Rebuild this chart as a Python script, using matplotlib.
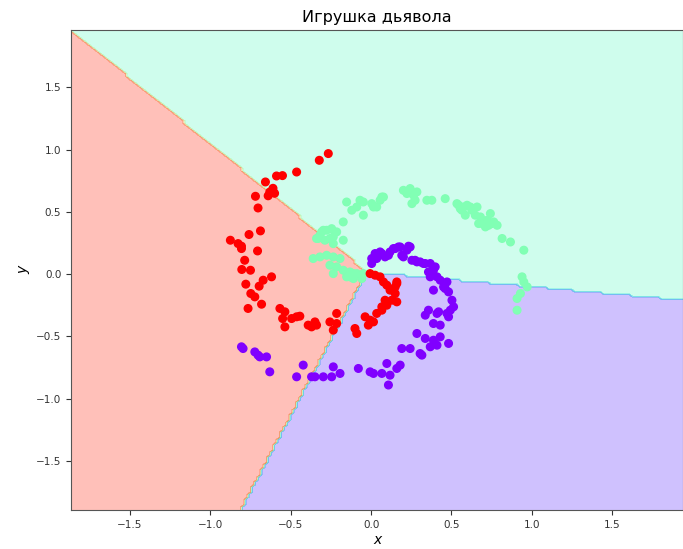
import numpy as np
import matplotlib
matplotlib.use('Agg')
import matplotlib.pyplot as plt

# spiral points, one arm per class
purple_x = [0.004, 0.035, 0.067, 0.087, 0.118, 0.15, 0.181, 0.191, 0.223, 0.243,
            0.254, 0.285, 0.326, 0.368, 0.357, 0.388, 0.368, 0.004, 0.025, 0.056,
            0.108, 0.139, 0.17, 0.201, 0.233, 0.274, 0.305, 0.337, 0.399, 0.41,
            0.43, 0.472, 0.451, 0.388, 0.482, 0.503, 0.513, 0.493, 0.472, 0.41,
            0.337, 0.357, 0.461, 0.42, 0.482, 0.388, 0.43, 0.285, 0.337, 0.388,
            0.43, 0.482, 0.368, 0.41, 0.191, 0.243, 0.305, 0.316, 0.181, 0.16,
            0.098, 0.118, 0.067, 0.015, -0.006, -0.079, 0.108, -0.193, -0.235, -0.245,
            -0.297, -0.349, -0.37, -0.422, -0.463, -0.63, -0.692, -0.703, -0.65, -0.723,
            -0.796, -0.806]
purple_y = [0.086, 0.126, 0.166, 0.139, 0.179, 0.206, 0.219, 0.152, 0.193, 0.219,
            0.112, 0.099, 0.086, 0.086, 0.018, 0.032, -0.021, 0.126, 0.166, 0.179,
            0.152, 0.206, 0.219, 0.139, 0.225, 0.112, 0.099, 0.086, 0.059, -0.021,
            -0.048, -0.062, -0.102, -0.128, -0.142, -0.209, -0.262, -0.289, -0.315, -0.315,
            -0.329, -0.289, -0.115, -0.302, -0.342, -0.396, -0.409, -0.476, -0.516, -0.53,
            -0.503, -0.556, -0.583, -0.57, -0.597, -0.597, -0.637, -0.65, -0.73, -0.757,
            -0.717, -0.811, -0.797, -0.797, -0.784, -0.757, -0.89, -0.797, -0.744, -0.824,
            -0.824, -0.824, -0.824, -0.73, -0.824, -0.784, -0.664, -0.65, -0.664, -0.624,
            -0.597, -0.583]

green_x = [-0.152, -0.12, -0.089, -0.069, -0.048, 0.004, 0.035, 0.056, 0.077, -0.173,
           0.201, 0.223, 0.243, 0.264, 0.274, 0.254, 0.285, 0.347, 0.378, 0.461,
           0.534, 0.555, 0.576, 0.597, 0.628, 0.586, 0.648, 0.68, 0.69, 0.711,
           0.721, 0.752, 0.784, 0.742, 0.815, 0.867, 0.95, 0.939, 0.95, 0.971,
           0.929, 0.908, 0.908, 0.545, 0.565, 0.617, 0.659, 0.669, 0.731, 0.763,
           -0.048, 0.067, 0.015, -0.307, -0.276, -0.245, -0.214, -0.235, -0.287, -0.329,
           -0.173, -0.297, -0.256, -0.318, -0.339, -0.235, -0.36, -0.318, -0.276, -0.235,
           -0.193, -0.256, -0.214, -0.173, -0.131, -0.089, -0.048, -0.235, -0.152, -0.11,
           -0.131, -0.058, -0.11]
green_y = [0.58, 0.514, 0.54, 0.594, 0.474, 0.567, 0.54, 0.594, 0.62, 0.42,
           0.674, 0.648, 0.688, 0.634, 0.594, 0.567, 0.661, 0.594, 0.594, 0.607,
           0.567, 0.527, 0.54, 0.554, 0.514, 0.474, 0.474, 0.46, 0.407, 0.38,
           0.433, 0.407, 0.393, 0.487, 0.287, 0.259, 0.193, -0.021, -0.062, -0.102,
           -0.155, -0.195, -0.289, 0.554, 0.514, 0.54, 0.54, 0.407, 0.393, 0.42,
           0.58, 0.62, 0.54, 0.34, 0.353, 0.366, 0.34, 0.3, 0.273, 0.287,
           0.273, 0.353, 0.287, 0.313, 0.287, 0.246, 0.126, 0.139, 0.152, 0.139,
           0.126, 0.072, 0.059, 0.032, 0.018, 0.005, 0.005, 0.005, -0.021, -0.035,
           -0.021, -0.035, 0.005]

red_x = [-0.266, -0.322, -0.463, -0.551, -0.588, -0.657, -0.63, -0.60, -0.64, -0.61,
         -0.719, -0.703, -0.688, -0.759, -0.875, -0.827, -0.806, -0.806, -0.706, -0.786,
         -0.804, -0.75, -0.619, -0.671, -0.696, -0.779, -0.748, -0.723, -0.681, -0.765,
         -0.567, -0.536, -0.55, -0.536, -0.494, -0.443, -0.463, -0.391, -0.349, -0.37,
         -0.339, -0.256, -0.235, -0.214, -0.214, -0.1, -0.089, -0.037, -0.017, 0.015,
         -0.006, 0.035, 0.067, 0.067, 0.087, 0.098, 0.129, 0.16, 0.15, 0.118,
         0.098, 0.16, 0.077, 0.056, 0.025, -0.006, 0.15, 0.16]
red_y = [0.969, 0.915, 0.821, 0.792, 0.789, 0.741, 0.66, 0.65, 0.63, 0.69,
         0.626, 0.532, 0.348, 0.319, 0.273, 0.246, 0.225, 0.206, 0.187, 0.112,
         0.038, 0.032, -0.021, -0.048, -0.096, -0.08, -0.155, -0.182, -0.241, -0.275,
         -0.275, -0.302, -0.356, -0.423, -0.356, -0.337, -0.342, -0.409, -0.383, -0.423,
         -0.409, -0.383, -0.449, -0.315, -0.396, -0.436, -0.476, -0.342, -0.409, -0.383,
         -0.369, -0.315, -0.262, -0.289, -0.209, -0.249, -0.209, -0.222, -0.155, -0.128,
         -0.088, -0.075, -0.062, -0.021, -0.008, 0.005, -0.102, -0.062]

# linear classifier (softmax) weights, classes: 0 purple, 1 green, 2 red
W = np.array([[-0.226, -1.973],
              [0.0, 0.0],
              [-1.522, -1.441]])
b = np.array([0.029, 0.0, -0.015])

X = np.column_stack([purple_x + green_x + red_x, purple_y + green_y + red_y])
y = np.array([0] * len(purple_x) + [1] * len(green_x) + [2] * len(red_x))

h = 0.02
x_min, x_max = X[:, 0].min() - 1, X[:, 0].max() + 1
y_min, y_max = X[:, 1].min() - 1, X[:, 1].max() + 1
xx, yy = np.meshgrid(np.arange(x_min, x_max, h), np.arange(y_min, y_max, h))
scores = np.c_[xx.ravel(), yy.ravel()] @ W.T + b
Z = np.argmax(scores, axis=1).reshape(xx.shape)

fig = plt.figure(figsize=(6.83, 5.49), dpi=100)
ax = fig.add_axes([0.104, 0.071, 0.896, 0.874])
ax.contourf(xx, yy, Z, cmap=plt.cm.rainbow, alpha=0.3)
ax.scatter(X[:, 0], X[:, 1], c=y, s=30, cmap=plt.cm.rainbow)
ax.set_xlim(-1.866, 1.94)
ax.set_ylim(-1.894, 1.96)
ax.set_title('Игрушка дьявола', fontsize=11.5)
ax.set_xlabel('x', fontstyle='italic', fontsize=10, labelpad=2)
ax.set_ylabel('y', fontstyle='italic', fontsize=10)
ax.tick_params(labelsize=7.5, colors='#333333')
for s in ax.spines.values():
    s.set_color('#555555')

fig.savefig('out.png', dpi=100)
